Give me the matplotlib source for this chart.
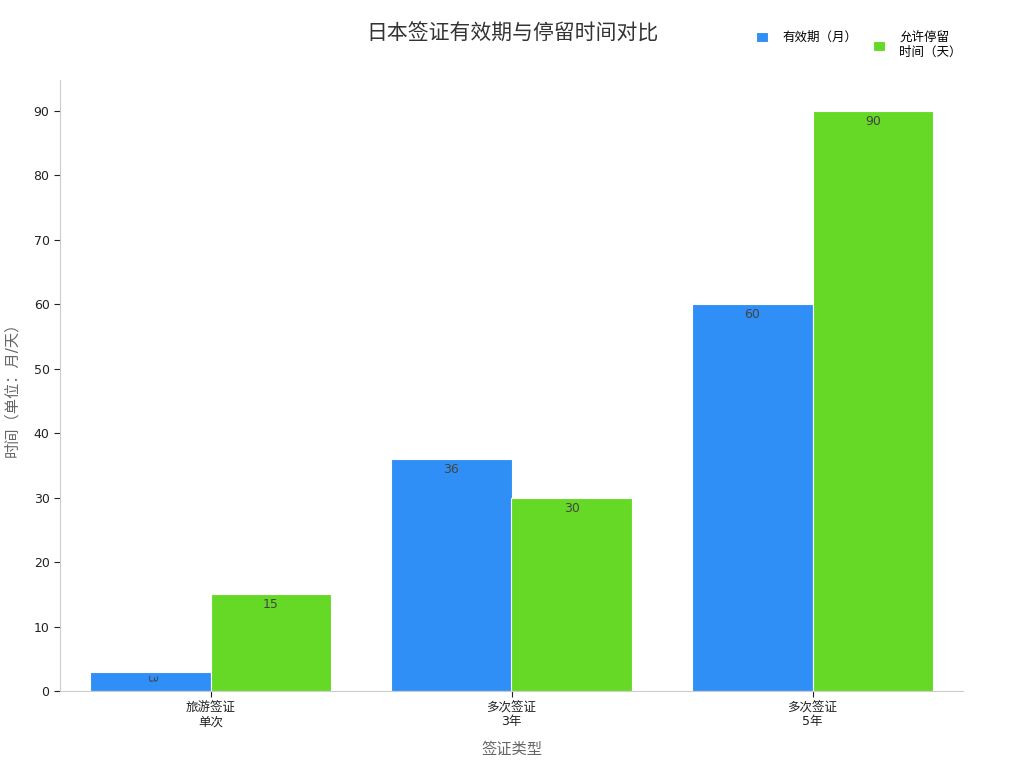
import matplotlib
matplotlib.use("Agg")
import matplotlib.pyplot as plt
import numpy as np

plt.rcParams['font.family'] = ['DejaVu Sans', 'Noto Sans CJK SC']

categories = ["旅游签证\n单次", "多次签证\n3年", "多次签证\n5年"]
validity = [3, 36, 60]
stay = [15, 30, 90]
series_names = ["有效期（月）", "允许停留\n时间（天）"]
colors = ["#2F8FF7", "#66D926"]


def main():
    fig = plt.figure(figsize=(10.24, 7.68), dpi=100)
    ax = fig.add_axes([60 / 1024, 1 - 691 / 768, 903 / 1024, 611 / 768])

    x = np.arange(len(categories))
    w = 0.4
    b1 = ax.bar(x - w / 2, validity, w, color=colors[0], edgecolor="white",
                linewidth=0.8, label=series_names[0])
    b2 = ax.bar(x + w / 2, stay, w, color=colors[1], edgecolor="white",
                linewidth=0.8, label=series_names[1])

    for bars in (b1, b2):
        for rect in bars:
            h = rect.get_height()
            cx = rect.get_x() + rect.get_width() / 2
            if h < 5:
                ax.annotate(f"{h:g}", (cx, h), xytext=(0, -2), textcoords="offset points",
                            ha="center", va="top", rotation=-90, fontsize=9, color="#444444")
            else:
                ax.annotate(f"{h:g}", (cx, h), xytext=(0, -3), textcoords="offset points",
                            ha="center", va="top", fontsize=9, color="#444444")

    ax.set_xlim(-0.5, 2.5)
    ax.set_ylim(0, 94.8)
    ax.set_xticks(x)
    ax.set_xticklabels(categories, fontsize=9, color="#222222", linespacing=1.1)
    ax.set_yticks(np.arange(0, 91, 10))
    ax.tick_params(axis="y", labelsize=9, colors="#222222", length=4)
    ax.tick_params(axis="x", length=4, colors="#222222")
    for s in ("top", "right"):
        ax.spines[s].set_visible(False)
    for s in ("left", "bottom"):
        ax.spines[s].set_color("#cccccc")

    ax.set_xlabel("签证类型", fontsize=11, color="#666666", labelpad=10)
    ax.set_ylabel("时间（单位：月/天）", fontsize=11, color="#666666", labelpad=10)

    fig.text(0.5, 1 - 33 / 768, "日本签证有效期与停留时间对比", ha="center", va="center",
             fontsize=15, color="#333333")

    # two separate legends so the entries line up at the top like the original
    fig.legend(handles=[b1], labels=[series_names[0]], loc="upper left",
               bbox_to_anchor=(745 / 1024, 1 - 20 / 768), frameon=False,
               fontsize=9, handlelength=0.9, handleheight=0.9, handletextpad=1.2)
    fig.legend(handles=[b2], labels=[series_names[1]], loc="upper left",
               bbox_to_anchor=(862 / 1024, 1 - 20 / 768), frameon=False,
               fontsize=9, handlelength=0.9, handleheight=0.9, handletextpad=1.2)

    fig.savefig("out.png", dpi=100)


if __name__ == "__main__":
    main()
